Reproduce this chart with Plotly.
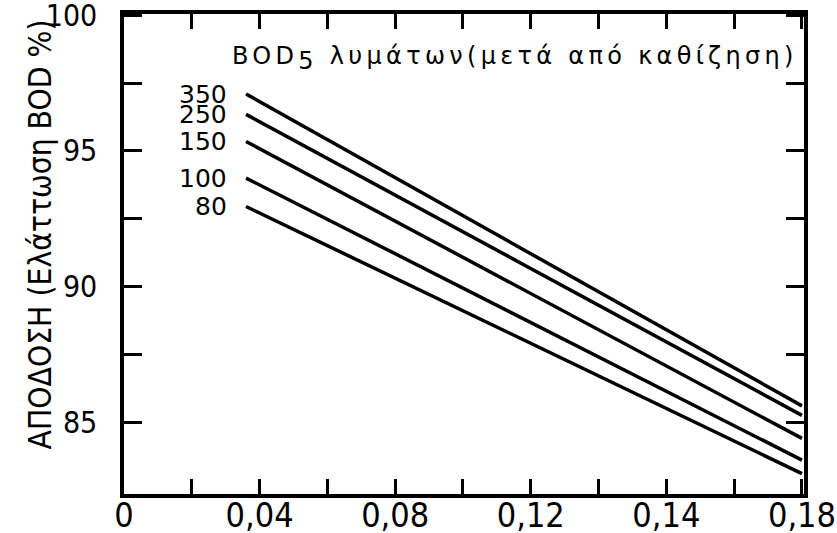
import plotly.graph_objects as go

# BOD load axis (x) and removal efficiency (y) for each influent BOD5 level
bod_levels = ["350", "250", "150", "100", "80"]
x_start = 0.036
x_end = 0.20
eff_start = [97.1, 96.35, 95.35, 94.0, 92.95]
eff_end = [85.6, 85.25, 84.4, 83.6, 83.1]

x_tickvals = [0, 0.02, 0.04, 0.06, 0.08, 0.10, 0.12, 0.14, 0.16, 0.18, 0.20]
x_ticktext = ["0", "", "0,04", "", "0,08", "", "0,12", "", "0,14", "", "0,18"]
y_tickvals = [85, 87.5, 90, 92.5, 95, 97.5, 100]
y_ticktext = ["85", "", "90", "", "95", "", "100"]

COND = "DejaVu Sans Condensed, Liberation Sans Narrow, DejaVu Sans, sans-serif"
REG = "DejaVu Sans, sans-serif"

fig = go.Figure()
for name, y0, y1 in zip(bod_levels, eff_start, eff_end):
    fig.add_trace(go.Scatter(
        x=[x_start, x_end], y=[y0, y1], mode="lines",
        line=dict(color="black", width=3.5), name=name, showlegend=False,
        hoverinfo="skip",
    ))
    fig.add_annotation(
        x=x_start, y=y0, text=name, showarrow=False, xanchor="right",
        yanchor="middle", xshift=-17, font=dict(family=REG, size=25, color="black"),
    )

fig.add_annotation(
    x=x_start, y=98.4, xref="x", yref="y", xshift=-16,
    text=("<span style='letter-spacing:4.3px'>BOD<sub><span style='font-size:24px'>5</span></sub>"
          " λυμάτων(μετά από καθίζηση)</span>"),
    showarrow=False, xanchor="left", yanchor="middle",
    font=dict(family=REG, size=24, color="black"),
)

fig.add_annotation(
    x=-0.124, y=0.54, xref="paper", yref="paper",
    text="ΑΠΟΔΟΣΗ (Ελάττωση BOD %)", textangle=-90, showarrow=False,
    xanchor="center", yanchor="middle",
    font=dict(family=COND, size=31.5, color="black"),
)

axis_common = dict(
    showgrid=False, zeroline=False, showline=True, linecolor="black",
    linewidth=3.5, mirror="ticks", ticks="inside", tickcolor="black",
    tickwidth=3, color="black", automargin=False, ticklabeloverflow="allow",
)
fig.update_xaxes(
    range=[0, 0.2006], tickvals=x_tickvals, ticktext=x_ticktext, ticklen=15,
    ticklabelstandoff=-12,
    tickfont=dict(family=COND, size=34, color="black"), **axis_common,
)
fig.update_yaxes(
    range=[82.35, 100.05], tickvals=y_tickvals, ticktext=y_ticktext, ticklen=18,
    ticklabelstandoff=17,
    tickfont=dict(family=COND, size=30, color="black"), **axis_common,
)

fig.update_layout(
    width=837, height=533, margin=dict(l=124, r=33, t=14, b=39),
    plot_bgcolor="white", paper_bgcolor="white",
)

fig.write_html("out.html")
